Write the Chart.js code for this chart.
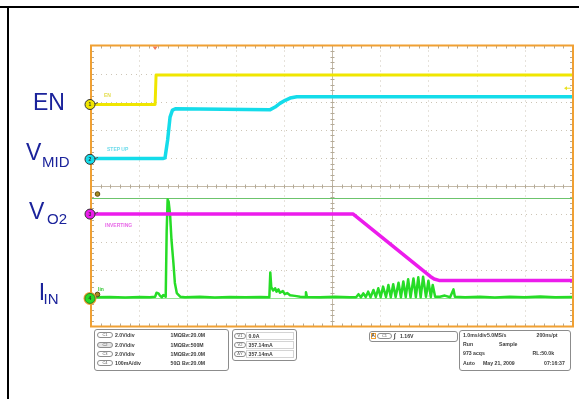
<!DOCTYPE html>
<html>
<head>
<meta charset="utf-8">
<script src="https://cdn.jsdelivr.net/npm/chart.js@4.4.1/dist/chart.umd.min.js"></script>
<style>
  html, body { margin: 0; padding: 0; background: #fff; }
  #wrap { position: relative; width: 579px; height: 399px; overflow: hidden; background: #fff; }
  #scope { position: absolute; left: 0; top: 0; }
  .rule { position: absolute; background: #000; }
  .t { position: absolute; white-space: nowrap; font-family: "Liberation Sans", Arial, sans-serif; }
  .big { color: #1b239b; font-size: 23px; line-height: 23px; }
  .sub { color: #1b239b; font-size: 15px; line-height: 15px; }
  .tag { font-weight: bold; font-size: 5px; line-height: 5px; }
  .box { position: absolute; border: 1px solid #8c8c8c; border-radius: 3px; box-sizing: border-box; }
  .s { position: absolute; white-space: nowrap; font-family: "Liberation Sans", Arial, sans-serif;
       font-weight: bold; font-size: 5.2px; line-height: 6px; color: #3c3c3c; }
  .s sub { font-size: 3.4px; vertical-align: 0; }
  .ov { position: absolute; border: 1px solid #8c8c8c; border-radius: 3px; box-sizing: border-box;
        font-family: "Liberation Sans", Arial, sans-serif; font-size: 4px; line-height: 4px;
        text-align: center; color: #555; height: 6px; }
  .cell { position: absolute; border: 1px solid #d4d4d4; box-sizing: border-box; }
</style>
</head>
<body>
<div id="wrap">
  <canvas id="scope" width="579" height="399"></canvas>

  <div class="rule" style="left:0;top:6px;width:579px;height:2px"></div>
  <div class="rule" style="left:7px;top:6px;width:2px;height:393px"></div>

  <!-- signal names -->
  <div class="t big" style="left:33px;top:91px">EN</div>
  <div class="t big" style="left:26px;top:140.5px">V</div>
  <div class="t sub" style="left:42px;top:153.6px">MID</div>
  <div class="t big" style="left:29px;top:199.8px">V</div>
  <div class="t sub" style="left:47px;top:211.3px">O2</div>
  <div class="t big" style="left:38.7px;top:280.5px">I</div>
  <div class="t sub" style="left:43.6px;top:290.8px">IN</div>

  <!-- on-screen trace tags -->
  <div class="t tag" style="left:104px;top:92.5px;color:#e4dc4c">EN</div>
  <div class="t tag" style="left:107px;top:147px;color:#6fdcec">STEP UP</div>
  <div class="t tag" style="left:105px;top:222.5px;color:#e86ae8">INVERTING</div>
  <div class="t tag" style="left:98px;top:286.5px;color:#38c838">Iin</div>

  <!-- channel settings -->
  <div class="box" style="left:94px;top:329px;width:135px;height:42px"></div>
  <div class="ov" style="left:97px;top:332px;width:16px">C1</div>
  <div class="s" style="left:115px;top:332px">2.0V/div</div>
  <div class="s" style="left:170.5px;top:332px">1MΩ</div>
  <div class="s" style="left:182px;top:332px">B<sub>W</sub>:20.0M</div>
  <div class="ov" style="left:97px;top:341.5px;width:16px;background:#e4e4e4">C2</div>
  <div class="s" style="left:115px;top:341.5px">2.0V/div</div>
  <div class="s" style="left:170.5px;top:341.5px">1MΩ</div>
  <div class="s" style="left:182px;top:341.5px">B<sub>W</sub>:500M</div>
  <div class="ov" style="left:97px;top:350.5px;width:16px">C3</div>
  <div class="s" style="left:115px;top:350.5px">2.0V/div</div>
  <div class="s" style="left:170.5px;top:350.5px">1MΩ</div>
  <div class="s" style="left:182px;top:350.5px">B<sub>W</sub>:20.0M</div>
  <div class="ov" style="left:97px;top:360px;width:16px">C4</div>
  <div class="s" style="left:115px;top:360px">100mA/div</div>
  <div class="s" style="left:170.5px;top:360px">50Ω</div>
  <div class="s" style="left:182px;top:360px">B<sub>W</sub>:20.0M</div>

  <!-- cursor readout -->
  <div class="box" style="left:232px;top:329px;width:65px;height:32px"></div>
  <div class="cell" style="left:246px;top:332px;width:48px;height:8px"></div>
  <div class="cell" style="left:246px;top:341px;width:48px;height:8px"></div>
  <div class="cell" style="left:246px;top:350px;width:48px;height:8px"></div>
  <div class="ov" style="left:234px;top:333px;width:12px">V1</div>
  <div class="s" id="curV1" style="left:248.5px;top:333px"></div>
  <div class="ov" style="left:234px;top:342px;width:12px">V2</div>
  <div class="s" id="curV2" style="left:248.5px;top:342px"></div>
  <div class="ov" style="left:234px;top:351px;width:12px">ΔY</div>
  <div class="s" id="curDY" style="left:248.5px;top:351px"></div>

  <!-- trigger -->
  <div class="box" style="left:369px;top:330.5px;width:89px;height:11px"></div>
  <div class="s" style="left:370.5px;top:332.5px;width:5px;height:6px;border:1px solid #f0a033;box-sizing:border-box;font-size:4.5px;line-height:4.5px;text-align:center">A</div>
  <div class="ov" style="left:377px;top:332.5px;width:15px">C1</div>
  <div class="s" style="left:394px;top:332.5px;font-size:6.5px">∫</div>
  <div class="s" id="trigText" style="left:400px;top:333px"></div>

  <!-- acquisition -->
  <div class="box" style="left:459px;top:330px;width:112px;height:41px"></div>
  <div class="s" style="left:463px;top:332px">1.0ms/div</div>
  <div class="s" style="left:487px;top:332px">5.0MS/s</div>
  <div class="s" style="left:536.5px;top:332px">200ns/pt</div>
  <div class="s" style="left:463px;top:341.3px">Run</div>
  <div class="s" style="left:499px;top:341.3px">Sample</div>
  <div class="s" style="left:463px;top:350.3px">973 acqs</div>
  <div class="s" style="left:532.5px;top:350.3px">RL:50.0k</div>
  <div class="s" style="left:463px;top:359.7px">Auto</div>
  <div class="s" style="left:483px;top:359.7px">May 21, 2009</div>
  <div class="s" style="left:544px;top:359.7px">07:16:37</div>
</div>

<script>
// Record time in ms from the left edge of the screen (1.0 ms/div, 10 divisions).
const enTime  = [0, 1.33, 1.35, 10];
const enVolts = [0, 0, 2.1, 2.1];

const vmidTime  = [0, 1.49, 1.535, 1.59, 1.64, 1.69, 1.76, 3.71, 3.82, 3.92, 4.03, 4.13, 4.27, 10];
const vmidVolts = [0.05, 0.05, 0.1, 1.37, 3.0, 3.5, 3.6, 3.52, 3.72, 3.98, 4.2, 4.36, 4.45, 4.45];

const vo2Time  = [0, 5.44, 7.04, 7.12, 7.22, 10];
const vo2Volts = [0, 0, -4.44, -4.62, -4.72, -4.72];

const iinTime = [
  0, 0.39, 0.71, 1.02, 1.22, 1.33, 1.36, 1.40, 1.43, 1.47, 1.50,
  1.55, 1.57, 1.59, 1.61, 1.64, 1.67, 1.71, 1.74, 1.78, 1.85,
  1.95, 2.26, 2.57, 2.88, 3.20, 3.51, 3.70,
  3.72, 3.74, 3.78, 3.82, 3.85, 3.89, 3.92, 3.98, 4.02, 4.07, 4.13, 4.23, 4.34,
  4.44, 4.46, 4.48, 4.75, 5.06, 5.37,
  5.50, 5.55, 5.60, 5.65, 5.70, 5.75, 5.80, 5.86, 5.91, 5.96, 6.01, 6.06, 6.12, 6.17, 6.22, 6.27,
  6.32, 6.38, 6.43, 6.48, 6.53, 6.58, 6.63, 6.69, 6.74, 6.79, 6.84, 6.89, 6.95, 7.00, 7.05, 7.09, 7.14,
  7.24, 7.34, 7.45, 7.52, 7.55, 7.76, 8.07, 8.38, 8.69, 9.00, 9.32, 9.63, 10
];
const iinMilliamps = [
  4, 5, 3, 5, 4, 6, 20, 18, 10, 4, 12,
  6, 240, 352, 345, 300, 208, 126, 55, 19, 6,
  4, 6, 3, 5, 4, 5, 4,
  92, 40, 28, 36, 24, 32, 20, 26, 15, 19, 11, 9, 6,
  5, 22, 5, 4, 6, 4,
  4, 15, 4, 18, 5, 24, 4, 30, 5, 36, 4, 42, 5, 48, 4, 50,
  5, 56, 4, 60, 5, 68, 4, 71, 5, 75, 4, 77, 6, 63, 5, 48, 6,
  6, 10, 4, 32, 6, 4, 6, 3, 6, 4, 7, 4, 5
];

// Trigger and cursor settings
const triggerTime = 1.33;           // ms
const triggerLevel = 1.16;          // V on C1
const cursorLevels = [0.0, 357.14]; // mA on C4

// Vertical setup: ground position (divisions from bottom) and units per division
const channels = {
  c1: { ground: 7.9,  perDiv: 2.0,   color: '#f0e600', width: 3 },
  c2: { ground: 5.95, perDiv: 2.0,   color: '#14dcea', width: 3.5 },
  c3: { ground: 4.0,  perDiv: 2.0,   color: '#ec1cec', width: 3.5 },
  c4: { ground: 1.0,  perDiv: 100.0, color: '#26dc26', width: 2.5 }
};

const toDiv = (ch, v) => ch.ground + v / ch.perDiv;
const trace = (times, values, ch) => times.map((t, i) => ({ x: t, y: toDiv(ch, values[i]) }));

document.getElementById('curV1').textContent = cursorLevels[0].toFixed(1) + 'A';
document.getElementById('curV2').textContent = cursorLevels[1].toFixed(2) + 'mA';
document.getElementById('curDY').textContent = (cursorLevels[1] - cursorLevels[0]).toFixed(2) + 'mA';
document.getElementById('trigText').textContent = triggerLevel.toFixed(2) + 'V';

const scopeScreen = {
  id: 'scopeScreen',
  beforeDatasetsDraw(chart) {
    const { ctx, chartArea: a, scales: { x, y } } = chart;
    const seg = (x1, y1, x2, y2) => { ctx.beginPath(); ctx.moveTo(x1, y1); ctx.lineTo(x2, y2); ctx.stroke(); };
    ctx.save();
    ctx.lineWidth = 1;

    // division lines
    ctx.strokeStyle = '#cdc5b6';
    ctx.setLineDash([1, 4]);
    for (let i = 1; i < 10; i++) {
      if (i === 5) continue;
      const px = Math.round(x.getPixelForValue(i)) + 0.5;
      seg(px, a.top, px, a.bottom);
      const py = Math.round(y.getPixelForValue(i)) + 0.5;
      seg(a.left, py, a.right, py);
    }
    ctx.setLineDash([]);

    // centre graticule with minor ticks
    ctx.strokeStyle = '#c4baa8';
    const cx = Math.round(x.getPixelForValue(5)) + 0.5;
    const cy = Math.round(y.getPixelForValue(5)) + 0.5;
    seg(cx, a.top, cx, a.bottom);
    seg(a.left, cy, a.right, cy);
    ctx.strokeStyle = '#b4aa98';
    for (let k = 1; k < 50; k++) {
      const v = k / 5;
      const px = Math.round(x.getPixelForValue(v)) + 0.5;
      const py = Math.round(y.getPixelForValue(v)) + 0.5;
      seg(px, cy - 2, px, cy + 2);
      seg(cx - 2, py, cx + 2, py);
      seg(px, a.top, px, a.top + 3);
      seg(px, a.bottom - 3, px, a.bottom);
      seg(a.left, py, a.left + 3, py);
      seg(a.right - 3, py, a.right, py);
    }

    // horizontal cursors on C4
    const c4 = channels.c4;
    ctx.strokeStyle = '#94e294';
    const yLo = Math.round(y.getPixelForValue(toDiv(c4, cursorLevels[0]))) + 0.5;
    seg(a.left, yLo, a.right, yLo);
    ctx.strokeStyle = '#6cc46c';
    const yHi = Math.round(y.getPixelForValue(toDiv(c4, cursorLevels[1]))) + 0.5;
    seg(a.left, yHi, a.right, yHi);
    ctx.restore();
  },
  afterDatasetsDraw(chart) {
    const { ctx, chartArea: a, scales: { x, y } } = chart;
    ctx.save();

    // screen frame
    ctx.strokeStyle = '#f0a033';
    ctx.lineWidth = 2;
    ctx.strokeRect(a.left, a.top, a.right - a.left, a.bottom - a.top);

    // trigger position marker
    const tx = x.getPixelForValue(triggerTime);
    ctx.fillStyle = '#f07a5a';
    ctx.beginPath();
    ctx.moveTo(tx - 2.5, a.top + 1); ctx.lineTo(tx + 2.5, a.top + 1); ctx.lineTo(tx, a.top + 4.5);
    ctx.closePath(); ctx.fill();

    // trigger level arrow on the right edge
    const ty = y.getPixelForValue(toDiv(channels.c1, triggerLevel));
    ctx.fillStyle = '#e8e020';
    ctx.strokeStyle = '#e8e020';
    ctx.lineWidth = 1;
    ctx.beginPath();
    ctx.moveTo(a.right - 9, ty); ctx.lineTo(a.right - 6, ty - 2); ctx.lineTo(a.right - 6, ty + 2);
    ctx.closePath(); ctx.fill();
    ctx.beginPath(); ctx.moveTo(a.right - 6, ty); ctx.lineTo(a.right - 2, ty); ctx.stroke();

    // cursor handles on C4
    ctx.fillStyle = '#a88c22';
    ctx.strokeStyle = '#5a4a10';
    cursorLevels.forEach(level => {
      const cy = y.getPixelForValue(toDiv(channels.c4, level)) - 4;
      ctx.beginPath(); ctx.arc(a.left + 6.5, cy, 2.3, 0, Math.PI * 2); ctx.fill(); ctx.stroke();
    });

    // channel ground markers
    const keys = ['c1', 'c2', 'c3', 'c4'];
    keys.forEach((key, i) => {
      const ch = channels[key];
      const gy = y.getPixelForValue(ch.ground);
      const gx = a.left - 1;
      ctx.strokeStyle = '#555';
      ctx.lineWidth = 1;
      ctx.beginPath(); ctx.moveTo(gx + 4, gy); ctx.lineTo(gx + 8, gy - 2); ctx.stroke();
      if (key === 'c4') {
        ctx.fillStyle = '#f0a033';
        ctx.beginPath(); ctx.arc(gx, gy, 6.5, 0, Math.PI * 2); ctx.fill();
      }
      ctx.fillStyle = ch.color;
      ctx.beginPath(); ctx.arc(gx, gy, 5, 0, Math.PI * 2); ctx.fill();
      ctx.strokeStyle = key === 'c4' ? '#2a8a2a' : '#333';
      ctx.stroke();
      ctx.fillStyle = '#333';
      ctx.font = 'bold 5px "Liberation Sans", Arial, sans-serif';
      ctx.textAlign = 'center';
      ctx.textBaseline = 'middle';
      ctx.fillText(String(i + 1), gx, gy + 0.5);
    });
    ctx.restore();
  }
};

new Chart(document.getElementById('scope'), {
  type: 'line',
  data: {
    datasets: [
      { label: 'EN',    data: trace(enTime, enVolts, channels.c1),       borderColor: channels.c1.color, borderWidth: channels.c1.width },
      { label: 'V_MID', data: trace(vmidTime, vmidVolts, channels.c2),   borderColor: channels.c2.color, borderWidth: channels.c2.width },
      { label: 'V_O2',  data: trace(vo2Time, vo2Volts, channels.c3),     borderColor: channels.c3.color, borderWidth: channels.c3.width },
      { label: 'I_IN',  data: trace(iinTime, iinMilliamps, channels.c4), borderColor: channels.c4.color, borderWidth: channels.c4.width }
    ]
  },
  options: {
    responsive: false,
    animation: false,
    devicePixelRatio: 1,
    layout: { padding: { left: 91, right: 6, top: 45.5, bottom: 72.5 } },
    plugins: { legend: { display: false }, tooltip: { enabled: false } },
    elements: { point: { radius: 0 }, line: { tension: 0, borderJoinStyle: 'round' } },
    scales: {
      x: { type: 'linear', min: 0, max: 10, display: false },
      y: { type: 'linear', min: 0, max: 10, display: false }
    }
  },
  plugins: [scopeScreen]
});
</script>
</body>
</html>
